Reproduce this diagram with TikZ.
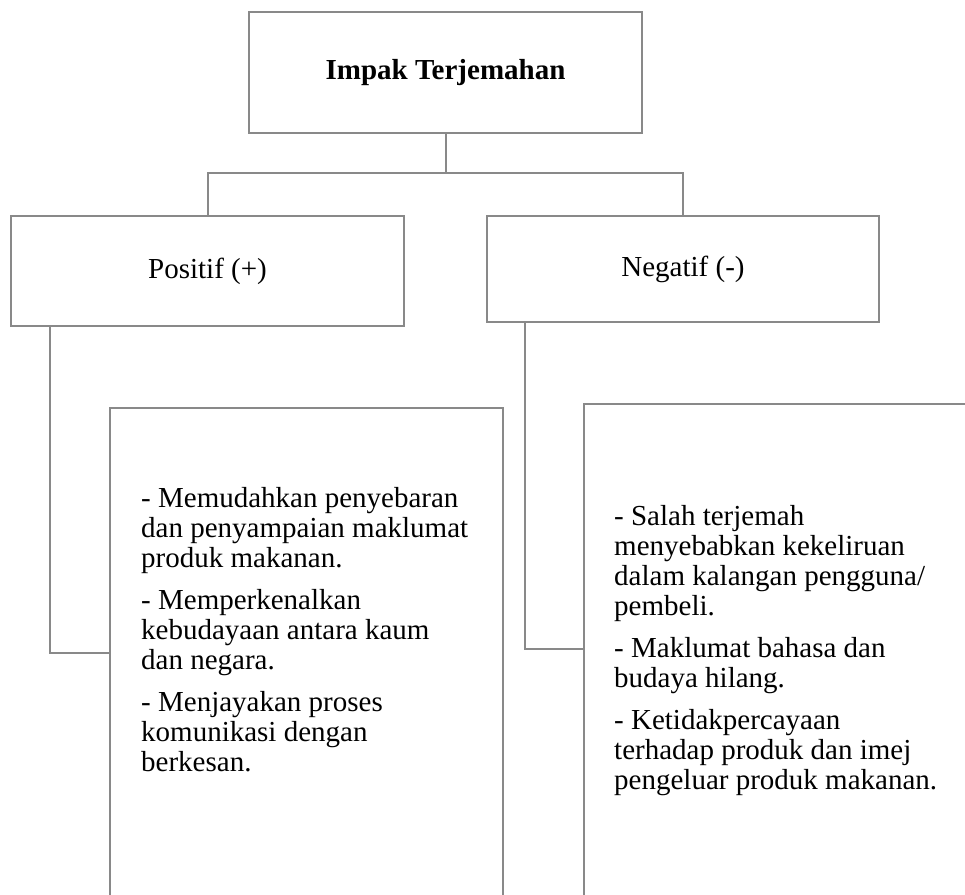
\documentclass[tikz,border=0pt]{standalone}
\usepackage{fontspec}
\setmainfont{Liberation Serif}
\definecolor{linegray}{RGB}{137,137,137}
\begin{document}
\begin{tikzpicture}[x=1pt,y=-1pt,
  box/.style={draw=linegray, line width=2pt, rectangle, inner sep=0pt, anchor=north west},
  conn/.style={draw=linegray, line width=2pt},
  headfont/.style={font=\fontsize{29}{31}\selectfont},
  bodytext/.style={font=\fontsize{29}{30}\selectfont, align=left, inner sep=0pt, anchor=north west}]
\useasboundingbox (0,0) rectangle (965,894);
\fill[white] (0,0) rectangle (965,894);
\clip (0,0) rectangle (965,894);
% boxes
\node[box, headfont, minimum width=393pt, minimum height=121pt] (top) at (248,11) {\textbf{Impak Terjemahan}};
\node[box, headfont, minimum width=393pt, minimum height=110pt] (pos) at (10,215) {Positif (+)};
\node[box, headfont, minimum width=392pt, minimum height=106pt] (neg) at (486,215) {Negatif (-)};
\node[box, minimum width=393pt, minimum height=520pt] (lb) at (109,407) {};
\node[box, minimum width=420pt, minimum height=520pt] (rb) at (583,403) {};
% texts
\node[bodytext] (lt) at (141,487) {- Memudahkan penyebaran\\ dan penyampaian maklumat\\ produk makanan.\\[12pt]
- Memperkenalkan\\ kebudayaan antara kaum\\ dan negara.\\[12pt]
- Menjayakan proses\\ komunikasi dengan\\ berkesan.};
\node[bodytext] (rt) at (614,505) {- Salah terjemah\\ menyebabkan kekeliruan\\ dalam kalangan pengguna/\\ pembeli.\\[12pt]
- Maklumat bahasa dan\\ budaya hilang.\\[12pt]
- Ketidakpercayaan\\ terhadap produk dan imej\\ pengeluar produk makanan.};
% connectors
\coordinate (bus) at (0,173);
\coordinate (lj) at (0,653);
\coordinate (rj) at (0,649);
\coordinate (pl) at ([xshift=40pt]pos.south west);
\coordinate (nl) at ([xshift=39pt]neg.south west);
\draw[conn] (top.south) -- (top.south |- bus);
\draw[conn] (pos.north) -- (pos.north |- bus) -- (neg.north |- bus) -- (neg.north);
\draw[conn] (pl) -- (pl |- lj) -- (lb.west |- lj);
\draw[conn] (nl) -- (nl |- rj) -- (rb.west |- rj);
\end{tikzpicture}
\end{document}
